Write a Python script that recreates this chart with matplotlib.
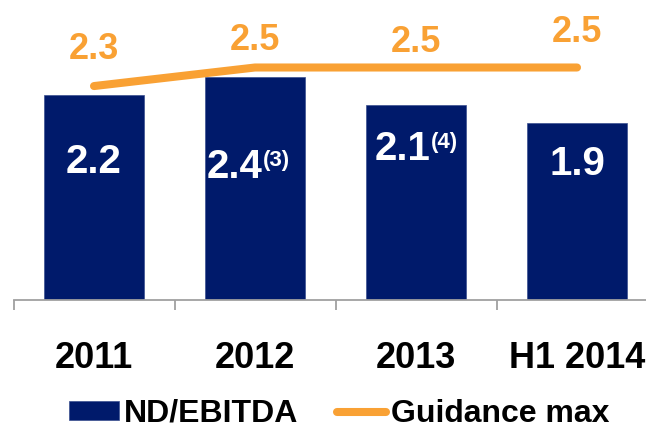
import matplotlib
matplotlib.use('Agg')
import matplotlib.pyplot as plt

plt.rcParams['font.family'] = ['Liberation Sans', 'DejaVu Sans']
plt.rcParams['font.weight'] = 'bold'

# data
categories = ['2011', '2012', '2013', 'H1 2014']
nd_ebitda = [2.2, 2.4, 2.1, 1.9]
guidance_max = [2.3, 2.5, 2.5, 2.5]
footnotes = ['', '(3)', '(4)', '']

# label placement (text only)
bar_label_y = [1.36, 1.31, 1.50, 1.34]
bar_label_dx = [0, -20, -13, 0]
guide_label_dy = [27, 17, 16, 25]

navy = '#001A6B'
orange = '#F9A134'
grey = '#A0A0A0'

fig = plt.figure(figsize=(6.46, 4.29), dpi=100)
W, H = 646, 429
base_px = 299.5
px_per_unit = 92.8
ax = fig.add_axes([13.5 / W, (H - base_px) / H, 644 / W, 3 * px_per_unit / H])

x = list(range(len(categories)))
bars = ax.bar(x, nd_ebitda, width=0.627, color=navy, edgecolor='#3A4F8F', linewidth=0.5,
              label='ND/EBITDA', zorder=2)
line, = ax.plot(x, guidance_max, color=orange, linewidth=5.8, solid_capstyle='round',
                label='Guidance max', zorder=3)

ax.set_xlim(-0.5, 3.5)
ax.set_ylim(0, 3)

# bar value labels
fig.canvas.draw()
renderer = fig.canvas.get_renderer()
for i in x:
    t = ax.annotate(f'{nd_ebitda[i]:.1f}', xy=(i, bar_label_y[i]), xytext=(bar_label_dx[i], 0),
                    textcoords='offset pixels', ha='center', va='baseline',
                    color='white', fontsize=29, fontweight='bold')
    if footnotes[i]:
        w = t.get_window_extent(renderer).width
        ax.annotate(footnotes[i], xy=(i, bar_label_y[i]),
                    xytext=(bar_label_dx[i] + w / 2, 12),
                    textcoords='offset pixels', ha='left', va='baseline',
                    color='white', fontsize=16, fontweight='bold')

# guidance labels
for i in x:
    ax.annotate(f'{guidance_max[i]:.1f}', xy=(i, guidance_max[i]), xytext=(0, guide_label_dy[i]),
                textcoords='offset pixels', ha='center', va='baseline',
                color=orange, fontsize=26, fontweight='bold')

# category labels
for i in x:
    ax.annotate(categories[i], xy=(i, 0), xytext=(0, -68), textcoords='offset pixels',
                ha='center', va='baseline', color='black', fontsize=26,
                fontweight='bold', annotation_clip=False)

# axis styling
for s in ['top', 'right', 'left']:
    ax.spines[s].set_visible(False)
ax.spines['bottom'].set_color(grey)
ax.spines['bottom'].set_linewidth(1.3)
ax.set_xticks([i - 0.5 for i in x] + [3.5])
ax.set_xticklabels([])
ax.tick_params(axis='x', direction='out', length=7.5, width=1.3, color=grey)
ax.set_yticks([])

fig.legend(handles=[bars, line], labels=['ND/EBITDA', 'Guidance max'],
           loc='center', bbox_to_anchor=(0.5255, 0.035), ncol=2, frameon=False,
           prop={'size': 23, 'weight': 'bold'}, handlelength=1.56, handleheight=0.52,
           handletextpad=0.15, columnspacing=1.2, borderpad=0.1)

fig.savefig('out.png', dpi=100)
